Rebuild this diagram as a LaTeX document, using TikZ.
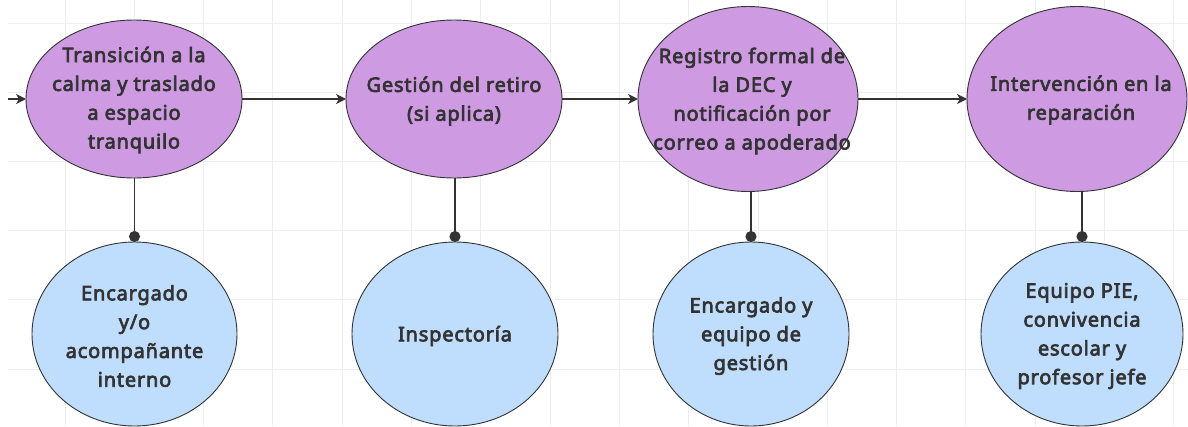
\documentclass[tikz,border=0pt]{standalone}
\usepackage{fontspec}
\setmainfont{Noto Sans}[BoldFont={Noto Sans},BoldFeatures={FakeBold=3.5,LetterSpace=4}]
\usetikzlibrary{shapes.geometric,arrows.meta}
\definecolor{pfill}{HTML}{CE9BE2}
\definecolor{bfill}{HTML}{BFDDFD}
\definecolor{ink}{HTML}{333333}
\definecolor{gridc}{HTML}{EEEEEE}
\tikzset{
  shapebase/.style={ellipse, draw=ink, line width=0.9pt, inner sep=0pt, outer sep=0pt},
  procnode/.style={shapebase, fill=pfill},
  rolenode/.style={shapebase, fill=bfill},
  txt/.style={text=ink, font=\bfseries\fontsize{20}{28.8}\selectfont, align=center, inner sep=0pt},
  flow/.style={draw=ink, line width=1.2pt, -{Stealth[length=10pt,width=10pt,inset=3pt]}},
  link/.style={draw=ink, line width=1.2pt, -{Circle[length=11pt]}},
}
\begin{document}
\begin{tikzpicture}[x=1pt,y=-1pt]
\useasboundingbox (0,0) rectangle (1188,426);
\fill[white] (0,0) rectangle (1188,426);
\foreach \i in {0,...,16} \draw[gridc, line width=1pt] ({65+69.3*\i},0) -- ({65+69.3*\i},426);
\foreach \j in {0,...,5} \draw[gridc, line width=1pt] (8,{23+69.2*\j}) -- (1188,{23+69.2*\j});

\node[procnode, minimum width=216pt, minimum height=158pt,
  label={[txt, yshift=-1pt]center:Transición a la\\calma y traslado\\a espacio\\tranquilo}] (p1) at (134,99) {};
\node[procnode, minimum width=216pt, minimum height=158pt,
  label={[txt, yshift=-2pt]center:Gestión del retiro\\(si aplica)}] (p2) at (454,99) {};
\node[procnode, minimum width=220pt, minimum height=185pt,
  label={[txt, xshift=4pt, yshift=-2pt]center:Registro formal de\\la DEC y\\notificación por\\correo a apoderado}] (p3) at (748,99) {};
\node[procnode, minimum width=220pt, minimum height=185pt,
  label={[txt, xshift=4pt, yshift=-1pt]center:Intervención en la\\reparación}] (p4) at (1077,99) {};

\node[rolenode, minimum width=205pt, minimum height=184pt,
  label={[txt, yshift=-2pt]center:Encargado\\y/o\\acompañante\\interno}] (b1) at (134.5,334) {};
\node[rolenode, minimum width=206pt, minimum height=184pt,
  label={[txt, yshift=-2pt]center:Inspectoría}] (b2) at (455,334) {};
\node[rolenode, minimum width=196pt, minimum height=184pt,
  label={[txt, yshift=-2pt]center:Encargado y\\equipo de\\gestión}] (b3) at (751,334) {};
\node[rolenode, minimum width=202pt, minimum height=184pt,
  label={[txt, yshift=-2pt]center:Equipo PIE,\\convivencia\\escolar y\\profesor jefe}] (b4) at (1082,334) {};

\coordinate (start) at (8,99);
\draw[flow] (start) -- (p1.west);
\draw[flow] (p1.east) -- (p2.west);
\draw[flow] (p2.east) -- (p3.west);
\draw[flow] (p3.east) -- (p4.west);

\draw[link] (b1.north |- p1.south) -- (b1.north);
\draw[link] (b2.north |- p2.south) -- (b2.north);
\draw[link] (b3.north |- p3.south) -- (b3.north);
\draw[link] (b4.north |- p4.south) -- (b4.north);
\end{tikzpicture}
\end{document}
